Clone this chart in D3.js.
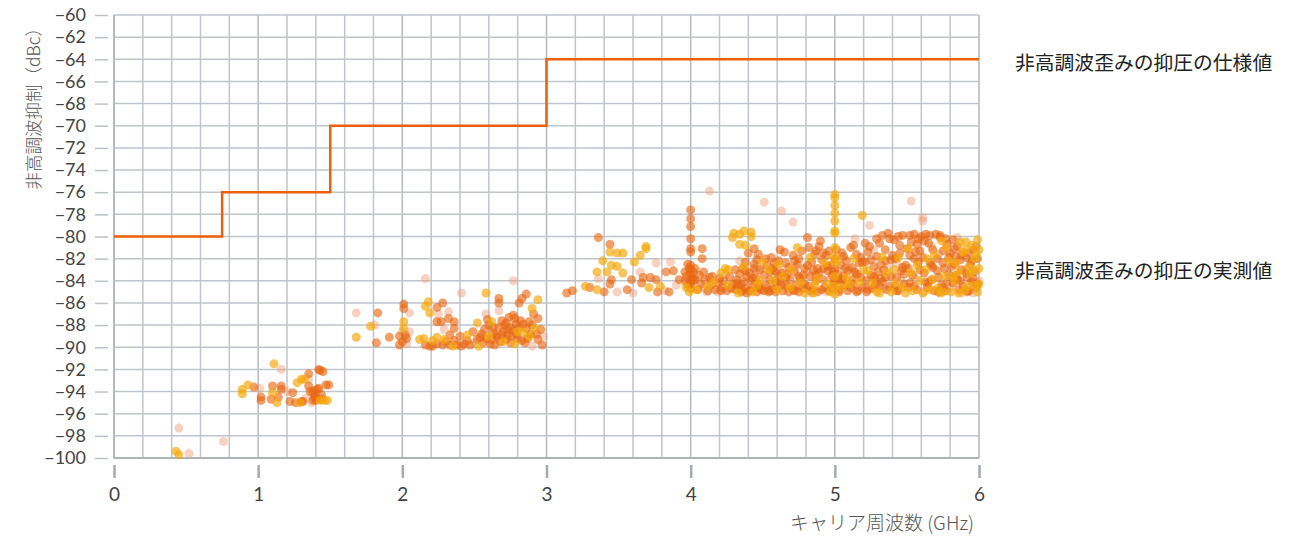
<!DOCTYPE html>
<html><head><meta charset="utf-8">
<script src="https://cdn.jsdelivr.net/npm/d3@7"></script>
<style>
html,body{margin:0;padding:0;background:#fff;}
svg{display:block;font-family:"Noto Sans CJK JP","Noto Sans",sans-serif;}
</style></head><body>
<svg id="chart" width="1313" height="536"></svg>
<script>
// ---- data ----
const xTicks = [0,1,2,3,4,5,6];
const yTicks = [-60,-62,-64,-66,-68,-70,-72,-74,-76,-78,-80,-82,-84,-86,-88,-90,-92,-94,-96,-98,-100];
const specSteps = [[0,-80],[0.75,-80],[0.75,-76],[1.5,-76],[1.5,-70],[3,-70],[3,-64],[6,-64]];
const labelSpec = "非高調波歪みの抑圧の仕様値";
const labelMeas = "非高調波歪みの抑圧の実測値";
const xTitle = "キャリア周波数 (GHz)";
const yTitle = "非高調波抑制（dBc）";

const lightPts = [
[0.45,-97.3],[0.52,-99.6],[0.76,-98.5],
[1.16,-92.0],[1.01,-93.7],[1.37,-95.0],[1.20,-94.0],[1.33,-94.6],[1.35,-92.9],
[2.16,-83.8],[2.77,-84.0],[2.41,-85.1],[2.32,-86.8],[2.25,-87.0],[2.05,-86.9],[1.68,-86.9],[1.81,-88.0],[2.00,-88.6],[2.05,-88.6],[2.03,-89.7],[2.29,-88.4],[2.58,-87.0],[2.98,-89.0],[2.67,-86.7],[2.50,-89.6],[2.90,-89.9],
[3.49,-85.0],[3.76,-82.4],[3.65,-83.2],[3.86,-82.3],[3.90,-84.4],[3.36,-83.8],[3.60,-85.1],[3.82,-84.9],
[4.34,-82.2],[4.13,-75.9],[4.11,-85.0],[4.51,-76.9],[4.09,-84.6],[4.19,-85.0],[4.24,-83.4],
[4.45,-83.2],[4.49,-82.8],[4.53,-84.6],[4.60,-83.4],[4.63,-77.7],[4.71,-78.7],[4.65,-84.3],[4.62,-83.0],
[4.73,-82.8],[4.77,-84.6],[4.84,-85.1],[4.81,-83.2],[4.94,-85.0],[4.97,-83.8],[5.04,-84.2],[5.10,-82.9],
[5.14,-80.2],[5.24,-79.0],[5.16,-83.4],[5.21,-84.5],[5.27,-81.2],[5.34,-84.7],[5.37,-82.8],[5.43,-82.4],[5.46,-84.0],
[5.53,-76.8],[5.61,-78.3],[5.61,-78.6],[5.56,-83.8],[5.62,-85.0],[5.67,-80.9],[5.72,-81.6],[5.80,-84.6],
[5.85,-80.1],[5.88,-85.1],[5.91,-83.0],[6.00,-84.0],[5.96,-85.1]
];

const orangePts = [
[0.97,-93.6],[1.02,-94.5],[1.02,-94.8],[1.09,-94.7],[1.10,-93.5],[1.14,-94.5],[1.16,-93.5],[1.16,-93.8],[1.24,-94.1],[1.22,-94.9],[1.26,-95.0],[1.31,-94.9],[1.35,-92.4],[1.35,-93.5],[1.38,-94.1],[1.39,-93.9],[1.40,-94.4],[1.40,-94.8],[1.42,-92.0],[1.43,-92.1],[1.45,-92.2],[1.42,-93.7],[1.44,-94.3],[1.47,-93.4],[1.49,-93.4],[1.39,-94.5],[1.41,-93.8],[1.38,-94.8],[1.30,-94.9],[1.36,-94.0],[1.44,-94.7],
[2.67,-85.6],[2.67,-86.0],[2.86,-85.2],[2.83,-85.6],[2.81,-86.0],[2.28,-86.0],[2.24,-86.4],[2.01,-86.1],[2.01,-86.5],[1.83,-86.9],[1.82,-89.6],[1.91,-89.1],[1.98,-89.0],[1.98,-89.8],[2.03,-89.2],[2.16,-89.8],[2.19,-89.9],[2.24,-89.7],[2.24,-87.7],[2.27,-87.7],[2.32,-87.4],[2.33,-88.9],[2.33,-89.8],[2.36,-87.7],[2.36,-88.3],[2.36,-89.4],[2.38,-89.8],[2.40,-89.0],[2.43,-89.7],[2.52,-89.3],[2.57,-88.4],[2.58,-89.2],[2.63,-88.7],[2.64,-89.8],[2.67,-88.2],[2.69,-87.6],[2.70,-88.6],[2.72,-89.3],[2.74,-87.3],[2.75,-88.2],[2.76,-89.0],[2.79,-87.9],[2.82,-87.6],[2.83,-89.4],[2.85,-89.6],[2.88,-87.7],[2.91,-87.0],[2.94,-87.4],[2.94,-89.3],[2.96,-88.4],[2.97,-89.8],[2.00,-89.5],[2.02,-88.9],[2.28,-89.8],[2.47,-89.8],[2.56,-89.6],[2.60,-88.0],[2.65,-88.9],[2.68,-89.5],[2.71,-88.0],[2.73,-88.9],[2.77,-88.5],[2.80,-89.2],[2.86,-88.3],[2.89,-88.8],[2.62,-89.3],[2.78,-87.4],[2.55,-88.8],[2.45,-89.4],[2.41,-89.9],
[2.59,-87.5],[2.63,-88.2],[2.66,-89.1],[2.69,-88.9],[2.72,-87.8],[2.75,-89.6],[2.79,-88.8],[2.81,-88.2],[2.84,-87.9],[2.87,-89.2],[2.90,-88.0],[2.93,-88.8],[2.61,-89.7],[2.73,-88.4],[2.77,-87.1],[2.30,-89.5],[2.21,-89.9],[2.49,-88.6],[2.54,-89.1],
[3.14,-85.1],[3.18,-84.9],[3.30,-84.6],[3.36,-80.1],[3.44,-80.7],[3.45,-83.9],[3.44,-84.3],[3.40,-85.0],[3.56,-84.8],[3.59,-83.9],[3.67,-83.7],[3.72,-83.7],[3.76,-83.9],[3.66,-84.2],[3.77,-85.0],[3.83,-83.2],[3.88,-83.1],[3.85,-85.0],[3.92,-83.9],[3.96,-83.2],[3.97,-83.6],[3.96,-84.0],[3.98,-84.4],
[4.00,-77.6],[4.00,-78.4],[4.00,-79.1],[4.00,-80.2],[4.00,-81.1],[4.00,-81.4],[4.00,-82.6],[4.00,-83.0],[4.00,-83.4],[4.00,-83.9],[4.00,-84.3],[4.00,-84.7],[3.99,-82.9],[4.01,-83.7],
[4.03,-83.9],[4.03,-82.9],[4.08,-82.0],[4.08,-81.1],[4.09,-83.2],[4.15,-83.6],[4.19,-84.2],[4.23,-84.0],[4.29,-84.3],
[4.05,-84.8],[4.07,-84.3],[4.10,-83.9],[4.12,-84.9],[4.14,-84.4],[4.17,-84.8],[4.20,-83.8],[4.22,-84.6],[4.25,-84.9],[4.27,-83.6],[4.28,-84.7],[4.06,-83.5],
[4.31,-84.8],[4.32,-83.9],[4.33,-84.5],[4.34,-83.4],[4.35,-85.0],[4.36,-82.9],[4.37,-84.1],[4.38,-84.7],[4.39,-83.6],[4.32,-84.2],[4.36,-84.9],[4.38,-83.1],
[4.40,-81.5],[4.44,-81.1],[4.47,-81.6],[4.41,-83.3],[4.42,-84.0],[4.43,-84.6],[4.44,-82.5],[4.45,-83.7],[4.46,-85.0],[4.47,-84.3],[4.48,-83.0],[4.49,-84.8],[4.41,-84.9],[4.46,-82.1],
[4.51,-83.5],[4.52,-84.4],[4.53,-82.6],[4.54,-85.0],[4.55,-83.9],[4.56,-81.9],[4.57,-84.7],[4.58,-83.1],[4.59,-84.2],[4.52,-82.0],[4.55,-84.9],[4.58,-82.4],
[4.61,-82.2],[4.62,-84.1],[4.63,-83.3],[4.64,-84.9],[4.65,-81.4],[4.66,-83.7],[4.67,-84.5],[4.68,-82.8],[4.69,-83.9],[4.62,-81.2],[4.66,-82.4],[4.68,-85.0],
[4.71,-81.7],[4.72,-83.2],[4.73,-84.4],[4.74,-82.5],[4.75,-85.0],[4.76,-83.8],[4.77,-81.3],[4.78,-84.7],[4.79,-82.9],[4.72,-84.9],[4.75,-82.0],[4.78,-83.5],
[4.81,-80.1],[4.82,-81.0],[4.83,-83.6],[4.84,-82.3],[4.85,-84.8],[4.86,-81.6],[4.87,-84.0],[4.88,-82.9],[4.89,-83.3],[4.82,-84.5],[4.85,-83.0],[4.88,-85.0],[4.90,-80.4],[4.89,-80.9],[4.87,-81.3],
[4.91,-82.1],[4.92,-83.9],[4.93,-84.6],[4.94,-81.7],[4.95,-83.1],[4.96,-84.9],[4.97,-82.6],[4.98,-83.5],[4.99,-84.2],[4.92,-82.9],[4.96,-81.3],[4.98,-84.7],
[5.00,-82.0],[5.00,-83.0],[5.00,-84.0],
[5.01,-81.2],[5.02,-83.4],[5.03,-84.8],[5.04,-82.6],[5.05,-83.9],[5.06,-81.8],[5.07,-84.4],[5.08,-82.2],[5.09,-83.1],[5.03,-85.0],[5.06,-83.6],[5.09,-84.9],
[5.11,-81.0],[5.12,-82.8],[5.13,-84.3],[5.14,-83.2],[5.15,-81.6],[5.16,-84.9],[5.17,-82.4],[5.18,-83.7],[5.19,-84.6],[5.12,-83.9],[5.15,-85.0],[5.18,-81.9],
[5.21,-82.3],[5.22,-84.0],[5.23,-81.4],[5.24,-80.9],[5.25,-83.5],[5.26,-84.7],[5.27,-82.7],[5.28,-83.9],[5.29,-81.8],[5.22,-85.0],[5.25,-82.1],[5.28,-84.4],[5.30,-83.2],
[5.31,-80.6],[5.32,-82.5],[5.33,-84.1],[5.34,-83.0],[5.35,-81.2],[5.36,-84.8],[5.37,-79.7],[5.38,-80.2],[5.39,-83.6],[5.32,-83.8],[5.35,-82.2],[5.38,-84.5],[5.40,-81.7],
[5.41,-80.3],[5.42,-82.0],[5.43,-83.7],[5.44,-84.9],[5.45,-81.5],[5.46,-83.1],[5.47,-79.9],[5.48,-84.3],[5.49,-82.6],[5.42,-84.5],[5.45,-80.8],[5.48,-83.4],[5.50,-81.1],
[5.51,-82.9],[5.52,-84.2],[5.53,-80.5],[5.54,-83.5],[5.55,-79.8],[5.56,-81.4],[5.57,-84.8],[5.58,-80.2],[5.59,-83.0],[5.52,-81.7],[5.55,-84.5],[5.58,-82.3],[5.60,-80.0],
[5.61,-81.9],[5.62,-83.3],[5.63,-79.8],[5.64,-84.6],[5.65,-80.6],[5.66,-82.4],[5.67,-83.9],[5.68,-81.2],[5.69,-84.9],[5.62,-80.4],[5.65,-84.2],[5.68,-82.8],[5.70,-79.8],
[5.71,-82.0],[5.72,-83.7],[5.73,-80.1],[5.74,-84.4],[5.75,-81.3],[5.76,-82.9],[5.77,-84.9],[5.78,-80.7],[5.79,-83.4],[5.72,-85.0],[5.75,-82.4],[5.78,-84.1],[5.80,-81.5],
[5.81,-82.7],[5.82,-84.2],[5.83,-81.1],[5.84,-83.5],[5.85,-80.9],[5.86,-84.8],[5.87,-82.1],[5.88,-83.0],[5.89,-84.5],[5.82,-80.3],[5.85,-83.9],[5.88,-81.6],
[5.91,-81.9],[5.92,-83.7],[5.93,-84.9],[5.94,-82.5],[5.95,-84.1],[5.96,-81.2],[5.97,-83.2],[5.98,-84.6],[5.99,-82.0],[5.92,-85.0],[5.96,-83.8],[5.99,-84.3],
[4.31,-83.0],[4.35,-84.3],[4.39,-85.1],[4.43,-83.8],[4.47,-84.6],[4.51,-84.9],[4.55,-83.2],[4.59,-85.0],[4.63,-84.4],[4.67,-83.4],[4.71,-84.8],[4.75,-83.6],[4.79,-84.3],[4.83,-84.9],[4.87,-83.5],[4.91,-84.8],[4.95,-82.7],[4.99,-83.2],[5.03,-83.9],[5.07,-82.9],[5.11,-84.6],[5.15,-83.4],[5.19,-82.3],[5.23,-84.8],[5.27,-83.6],[5.31,-84.5],[5.35,-83.7],[5.39,-82.1],[5.43,-84.9],[5.47,-82.8],[5.51,-84.6],[5.55,-82.0],[5.59,-81.3],[5.63,-84.1],[5.67,-82.6],[5.71,-83.1],[5.75,-84.6],[5.79,-81.9],[5.83,-82.5],[5.87,-84.0],[5.91,-83.3],[5.95,-82.2],[5.98,-80.9],
[4.21,-84.9],[4.13,-83.7],[4.02,-84.0],[4.02,-83.2],[3.98,-82.5],[4.38,-82.3],[4.44,-82.9],[4.57,-82.9],[4.61,-83.6],[4.72,-82.2],[4.81,-82.6],[4.92,-81.5],[5.05,-81.5],[5.13,-80.8],[5.21,-80.6],[5.29,-80.2],[5.33,-79.9],[5.44,-80.0],[5.52,-79.9],[5.57,-80.7],[5.66,-79.9],[5.73,-79.9],[5.77,-80.2],[5.84,-81.8],[5.93,-81.5]
];

const yellowPts = [
[0.43,-99.4],[0.45,-99.7],
[1.11,-91.5],[0.89,-93.8],[0.89,-94.2],[0.93,-93.4],[1.10,-94.1],[1.13,-95.0],[1.27,-93.2],[1.30,-92.9],[1.29,-95.0],[1.46,-94.8],[1.48,-94.8],[1.43,-94.8],[1.32,-92.9],
[2.58,-85.1],[2.94,-85.7],[2.18,-85.9],[2.16,-86.3],[2.19,-86.9],[1.78,-88.1],[1.68,-89.1],[2.01,-87.7],[2.01,-88.3],[2.12,-89.3],[2.15,-89.2],[2.21,-89.4],[2.24,-89.1],[2.29,-89.3],[2.45,-88.9],[2.52,-87.8],[2.53,-89.9],[2.62,-87.7],[2.78,-89.7],[2.80,-88.6],[2.84,-88.6],[2.88,-89.0],[2.90,-86.5],[2.92,-88.3],[2.70,-89.5],[2.60,-89.0],[2.35,-89.9],
[3.44,-81.4],[3.39,-82.2],[3.35,-83.2],[3.42,-83.2],[3.45,-82.6],[3.49,-82.7],[3.53,-81.5],[3.49,-81.5],[3.53,-83.3],[3.35,-84.8],[3.61,-82.3],[3.65,-81.7],[3.69,-81.1],[3.69,-80.9],[3.71,-84.6],[3.79,-84.5],[3.27,-84.5],
[4.30,-79.7],[4.34,-79.8],[4.37,-79.5],[4.42,-79.6],[4.42,-80.0],[4.29,-80.1],[4.34,-80.7],[4.38,-80.8],[4.37,-82.7],[4.33,-85.1],[4.26,-83.0],[4.24,-82.9],[4.21,-83.3],[4.12,-84.5],[3.97,-84.6],[3.99,-85.0],
[4.04,-84.8],[4.16,-84.1],[4.26,-84.4],
[4.50,-82.3],[4.43,-85.0],[4.48,-84.0],[4.54,-83.0],[4.57,-84.0],[4.61,-82.5],[4.64,-83.6],[4.69,-84.6],
[4.74,-81.0],[4.76,-84.2],[4.79,-85.1],[4.83,-81.9],[4.86,-84.4],[4.88,-83.8],[4.93,-82.4],[4.95,-84.3],[4.99,-81.8],
[5.00,-76.2],[5.00,-76.5],[5.00,-77.2],[5.00,-77.9],[5.00,-78.6],[5.00,-79.5],[5.00,-79.7],[5.00,-81.0],[5.00,-82.4],[5.00,-83.6],[5.00,-84.5],[5.00,-85.2],
[5.02,-82.1],[5.05,-84.6],[5.08,-83.7],[5.19,-78.1],[5.13,-82.0],[5.17,-84.1],[5.23,-83.1],[5.26,-84.2],[5.29,-85.0],
[5.33,-81.9],[5.36,-83.3],[5.39,-85.0],[5.41,-83.0],[5.44,-81.9],[5.47,-84.6],[5.49,-85.1],
[5.51,-81.1],[5.54,-84.9],[5.57,-82.6],[5.59,-84.0],[5.63,-83.0],[5.66,-84.8],[5.69,-81.7],[5.64,-82.0],
[5.74,-80.4],[5.71,-84.7],[5.76,-83.6],[5.79,-82.2],[5.73,-85.1],[5.77,-81.0],
[5.87,-80.5],[5.81,-85.0],[5.84,-82.4],[5.86,-83.2],[5.89,-81.4],[5.83,-84.0],[5.90,-84.9],
[5.91,-80.5],[5.91,-81.2],[5.93,-82.8],[5.95,-80.8],[5.97,-84.4],[5.99,-80.3],[5.98,-81.6],[5.94,-83.4],[6.00,-82.9],
[4.46,-84.4],[4.60,-84.8],[4.70,-83.0],[4.85,-85.1],[4.97,-85.0],[5.10,-84.3],[5.20,-83.0],[5.31,-85.1],[5.42,-84.2],[5.53,-83.3],[5.61,-85.1],[5.68,-83.9],[5.75,-85.0],[5.82,-83.6],[5.86,-85.1],[5.92,-84.5],[5.96,-83.0],[5.99,-85.0],[6.00,-81.2],[6.00,-84.3],[5.97,-82.0]
];

// ---- chart ----
const svg = d3.select("#chart");
const x = d3.scaleLinear().domain([0,6]).range([114,979]);
const y = d3.scaleLinear().domain([-100,-60]).range([458,15]);
const gridColor = "#bfc5cb";
const minus = v => (v<0 ? "\u2212" + Math.abs(v) : String(v));
const tickFont = "Lato, 'Noto Sans', sans-serif";

// grid
const g = svg.append("g");
g.selectAll("line.v").data(d3.range(0,31)).join("line")
  .attr("x1", i=>x(i*0.2)).attr("x2", i=>x(i*0.2))
  .attr("y1", y(-60)).attr("y2", y(-100))
  .attr("stroke", i => i%5===0 ? "#b3b9bf" : gridColor).attr("stroke-width", 1.5);
g.selectAll("line.h").data(yTicks).join("line")
  .attr("x1", x(0)).attr("x2", x(6))
  .attr("y1", d=>y(d)).attr("y2", d=>y(d))
  .attr("stroke", gridColor).attr("stroke-width", 1.5);
g.append("line").attr("x1",x(0)).attr("x2",x(6)).attr("y1",y(-100)).attr("y2",y(-100))
  .attr("stroke","#adb3b9").attr("stroke-width",2);
g.append("line").attr("x1",x(0)).attr("x2",x(0)).attr("y1",y(-60)).attr("y2",y(-100))
  .attr("stroke","#b3b9bf").attr("stroke-width",2);

// y axis
const yAxis = d3.axisLeft(y).tickValues(yTicks).tickSize(13).tickPadding(9).tickFormat(minus);
const ya = svg.append("g").attr("transform","translate(108,0)").call(yAxis);
ya.select(".domain").remove();
ya.selectAll(".tick line").attr("stroke","#bcc2c7").attr("stroke-width",1.5);
ya.selectAll(".tick text").attr("fill","#444").style("font-size","18px").style("font-family",tickFont).style("font-weight","400");

// x axis
const xAxis = d3.axisBottom(x).tickValues(xTicks).tickSize(13).tickPadding(10).tickFormat(d3.format("d"));
const xa = svg.append("g").attr("transform","translate(0,465)").call(xAxis);
xa.select(".domain").remove();
xa.selectAll(".tick line").attr("stroke","#a4aab0").attr("stroke-width",2.5);
xa.selectAll(".tick text").attr("fill","#444").style("font-size","19px").style("font-family",tickFont).style("font-weight","400");

// points
const r = 4.5;
svg.append("g").selectAll("circle").data(lightPts).join("circle")
  .attr("cx", d=>x(d[0])).attr("cy", d=>y(d[1])).attr("r", r)
  .attr("fill","#ee9b75").attr("fill-opacity",0.45);
svg.append("g").selectAll("circle").data(orangePts).join("circle")
  .attr("cx", d=>x(d[0])).attr("cy", d=>y(d[1])).attr("r", r)
  .attr("fill","#e8650f").attr("fill-opacity",0.62);
svg.append("g").selectAll("circle").data(yellowPts).join("circle")
  .attr("cx", d=>x(d[0])).attr("cy", d=>y(d[1])).attr("r", r)
  .attr("fill","#f5a80a").attr("fill-opacity",0.68);

// spec step line
svg.append("path").datum(specSteps)
  .attr("d", d3.line().x(d=>x(d[0])).y(d=>y(d[1])))
  .attr("fill","none").attr("stroke","#ea600c").attr("stroke-width",2.5);

// titles
svg.append("text").attr("transform","translate(40,19) rotate(-90)")
  .attr("text-anchor","end").attr("fill","#555").style("font-size","17.5px").style("font-weight","300")
  .text(yTitle);
svg.append("text").attr("x",974).attr("y",530).attr("text-anchor","end")
  .attr("fill","#555").style("font-size","19px").style("font-weight","300").text(xTitle);

// right labels
svg.append("text").attr("x",1015).attr("y",70).attr("fill","#222")
  .style("font-size","19.8px").text(labelSpec);
svg.append("text").attr("x",1015).attr("y",278).attr("fill","#222")
  .style("font-size","19.8px").text(labelMeas);
</script>
</body></html>
